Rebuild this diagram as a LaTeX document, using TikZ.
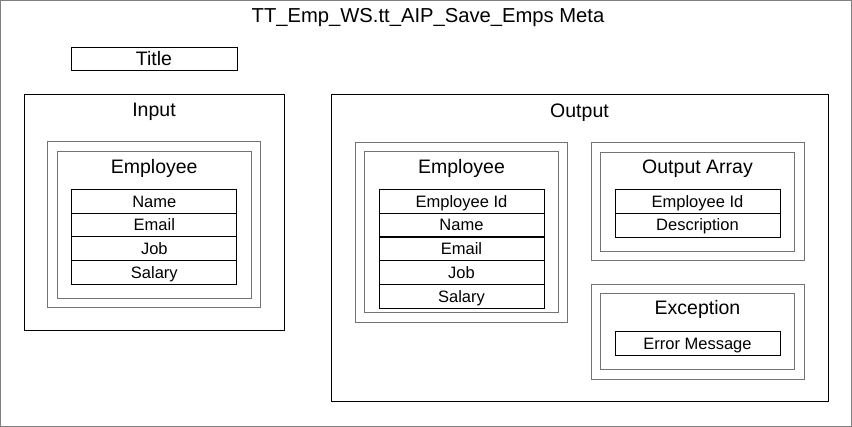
\documentclass[tikz,border=0pt]{standalone}
\usepackage{fontspec}
\setmainfont{Liberation Sans}
\tikzset{every picture/.style={ampersand replacement=\&}}
\tikzset{
  box/.style={draw, line width=1pt, inner sep=0pt, outer sep=0pt},
  graybox/.style={box, draw=black!55},
  head/.style={font=\fontsize{19.5}{20}\selectfont, anchor=base, inner sep=0pt},
  field/.style={box, font=\fontsize{16.5}{17}\selectfont, minimum width=165pt,
    minimum height=23.75pt, text height=11.5pt, text depth=0pt}
}

\begin{document}
\begin{tikzpicture}[x=1pt,y=-1pt]
  \useasboundingbox (0,0) rectangle (852,427);
  \node[box, draw=black!50, minimum width=851pt, minimum height=426pt] (meta) at (426,213.5) {};
  \node[head, font=\fontsize{20.2}{21}\selectfont] (metatitle) at (428,23) {TT\_Emp\_WS.tt\_AIP\_Save\_Emps Meta};
  \node[box, minimum width=166pt, minimum height=23pt] (titlebox) at (154,59.5) {};
  \node[head] (titletext) at (154,65.5) {Title};

  \node[box, minimum width=260pt, minimum height=236pt] (input) at (154,213) {};
  \node[head] (inputlbl) at (154,116.7) {Input};
  \node[graybox, minimum width=213.5pt, minimum height=166pt] (inemp) at (154.2,225) {};
  \node[graybox, minimum width=193.7pt, minimum height=146.3pt] (inempin) at (154.2,224.9) {};
  \node[head] (inemplbl) at (154.2,173.3) {Employee};
  \foreach \lbl [count=\i] in {Name,Email,Job,Salary}
    \node[field] (infield\i) at (154.3,{201.3+23.75*(\i-1)}) {\lbl};

  \node[box, minimum width=497pt, minimum height=307pt] (output) at (579.5,248.5) {};
  \node[head] (outputlbl) at (579.5,117.3) {Output};
  \node[graybox, minimum width=212.7pt, minimum height=180pt] (outemp) at (461.4,232.3) {};
  \node[graybox, minimum width=193.6pt, minimum height=161pt] (outempin) at (461.5,232.2) {};
  \node[head] (outemplbl) at (461.5,173.3) {Employee};
  \foreach \lbl [count=\i] in {Employee Id,Name,Email,Job,Salary}
    \node[field] (outfield\i) at (461.5,{201.3+23.8*(\i-1)}) {\lbl};

  \node[graybox, minimum width=212.3pt, minimum height=118pt] (outarr) at (697.9,201.7) {};
  \node[graybox, minimum width=193.6pt, minimum height=98.7pt] (outarrin) at (697.5,201.7) {};
  \node[head] (outarrlbl) at (697.5,173.3) {Output Array};
  \foreach \lbl [count=\i] in {Employee Id,Description}
    \node[field] (arrfield\i) at (697.5,{201.5+23.65*(\i-1)}) {\lbl};

  \node[graybox, minimum width=212.3pt, minimum height=94.7pt] (exc) at (697.9,331.7) {};
  \node[graybox, minimum width=193.6pt, minimum height=75.6pt] (excin) at (697.5,331.5) {};
  \node[head] (exclbl) at (697.5,315) {Exception};
  \node[field] (excfield) at (697.5,343.3) {Error Message};
\end{tikzpicture}
\end{document}
